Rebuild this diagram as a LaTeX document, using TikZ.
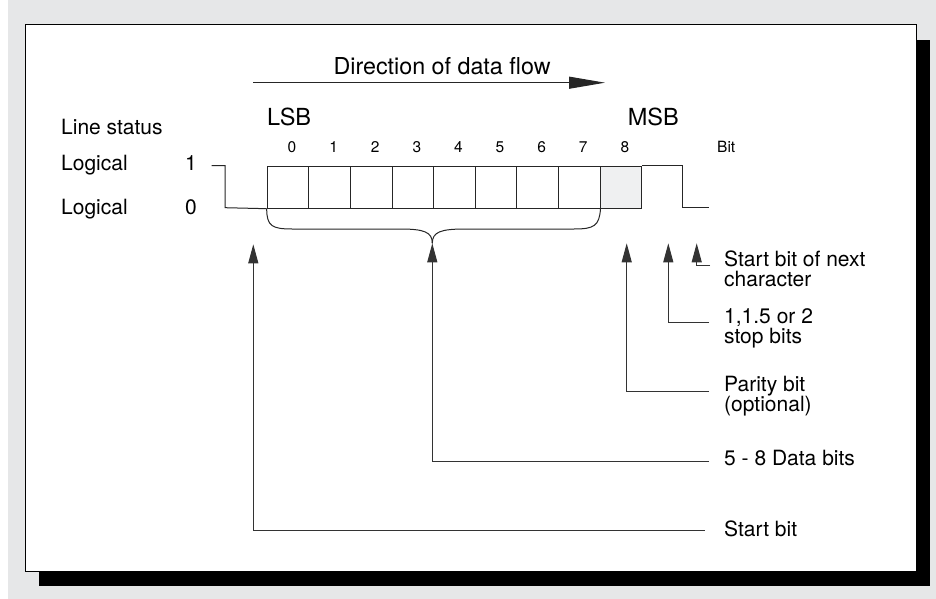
\documentclass[tikz,border=0pt]{standalone}
\usepackage{fontspec}
\setmainfont{TeX Gyre Heros}
\usetikzlibrary{arrows.meta}
\definecolor{bggray}{HTML}{E6E7E8}
\definecolor{parfill}{HTML}{EFF0F1}
\begin{document}
\begin{tikzpicture}[x=1pt,y=-1pt,
  lbl/.style={anchor=base west,inner sep=0pt,font=\fontsize{21}{21}\selectfont},
  big/.style={anchor=base west,inner sep=0pt,font=\fontsize{23.5}{23.5}\selectfont},
  small/.style={anchor=base west,inner sep=0pt,font=\fontsize{15.5}{15.5}\selectfont},
  wave/.style={line width=1pt,black!85},
  bitbox/.style={draw=black!85,line width=1pt,minimum width=41.6pt,minimum height=42pt,inner sep=0pt,anchor=north west},
  lead/.style={line width=1pt,black!80,-{Triangle[length=19pt,width=10pt]}},
  flow/.style={line width=1pt,black!85,-{Triangle[length=36pt,width=12pt]}}
]
% background
\useasboundingbox (0,0) rectangle (936,599);
\fill[white] (0,0) rectangle (8,599);
\fill[bggray] (8,0) rectangle (936,599);
\fill[black] (39,40) rectangle (930,586);
\draw[fill=white,line width=1pt] (25,25) rectangle (916,571.5);

% direction of data flow
\node[big,font=\fontsize{23.3}{23.3}\selectfont] (dirtxt) at (333.3,75) {Direction of data flow};
\coordinate (flowA) at (253,82.7);
\coordinate (flowB) at (605,82.7);
\draw[flow] (flowA) -- (flowB);

\node[big] (lsb) at (267,125) {LSB};
\node[big] (msb) at (627.7,125) {MSB};

% line status labels
\node[lbl] (lstat) at (61,135) {Line status};
\node[lbl] (log1) at (61,170.7) {Logical};
\node[lbl] (one) at (185,170.7) {1};
\node[lbl] (log0) at (61,214) {Logical};
\node[lbl] (zero) at (185,214) {0};

% bit boxes
\foreach \i in {0,...,7}{
  \node[bitbox] (bit\i) at ({266.7+41.6*\i},165.7) {};
  \node[small] (num\i) at ({266.7+41.6*\i+20.8},152.7) {\i};
}
\node[bitbox,fill=parfill] (bit8) at ({266.7+41.6*8},165.7) {};
\node[small] (num8) at ({266.7+41.6*8+20.8},152.7) {8};
\node[small] (bittxt) at (717,152.3) {Bit};

% waveform
\coordinate (w0) at (211.7,165.7);
\coordinate (w1) at (225,165.7);
\coordinate (w2) at (225,207.7);
\coordinate (w3) at (682.3,165.7);
\coordinate (w4) at (682.3,207.7);
\coordinate (w5) at (709,207.7);
\draw[wave] (w0) -- (w1) -- (w2) -- (bit0.south west);
\draw[wave] (bit8.north east) -- (w3) -- (w4) -- (w5);

% brace
\coordinate (btip) at (432.3,243.3);
\draw[wave] (bit0.south west) .. controls (266.7,226) and (272,229) .. (292,229)
  -- (400,229) .. controls (424,229) and (432.3,232) .. (btip);
\draw[wave] (bit7.south east) .. controls (599.3,226) and (594,229) .. (574,229)
  -- (465,229) .. controls (440.6,229) and (432.3,232) .. (btip);

% right labels
\node[lbl] (nexta) at (724,266.7) {Start bit of next};
\node[lbl] (nextb) at (724,286.7) {character};
\node[lbl] (stopa) at (724,323.3) {1,1.5 or 2};
\node[lbl] (stopb) at (724,343.3) {stop bits};
\node[lbl] (para) at (724,391.7) {Parity bit};
\node[lbl] (parb) at (724,411.7) {(optional)};
\node[lbl] (datal) at (724,465.7) {5 - 8 Data bits};
\node[lbl] (startl) at (724,536.7) {Start bit};

% connector ends
\coordinate (eNext) at (710,265.7);
\coordinate (tNext) at (696.7,243.3);
\coordinate (eStop) at (709,322.3);
\coordinate (tStop) at (668.3,243.3);
\coordinate (ePar) at (709,391.7);
\coordinate (tPar) at (626.7,243.3);
\coordinate (eData) at (709,461.7);
\coordinate (eStart) at (704.5,530.7);
\coordinate (tStart) at (253.3,244.3);

\draw[lead] (eNext) -| (tNext);
\draw[lead] (eStop) -| (tStop);
\draw[lead] (ePar) -| (tPar);
\draw[lead] (eData) -| (btip);
\draw[lead] (eStart) -| (tStart);
\end{tikzpicture}
\end{document}
